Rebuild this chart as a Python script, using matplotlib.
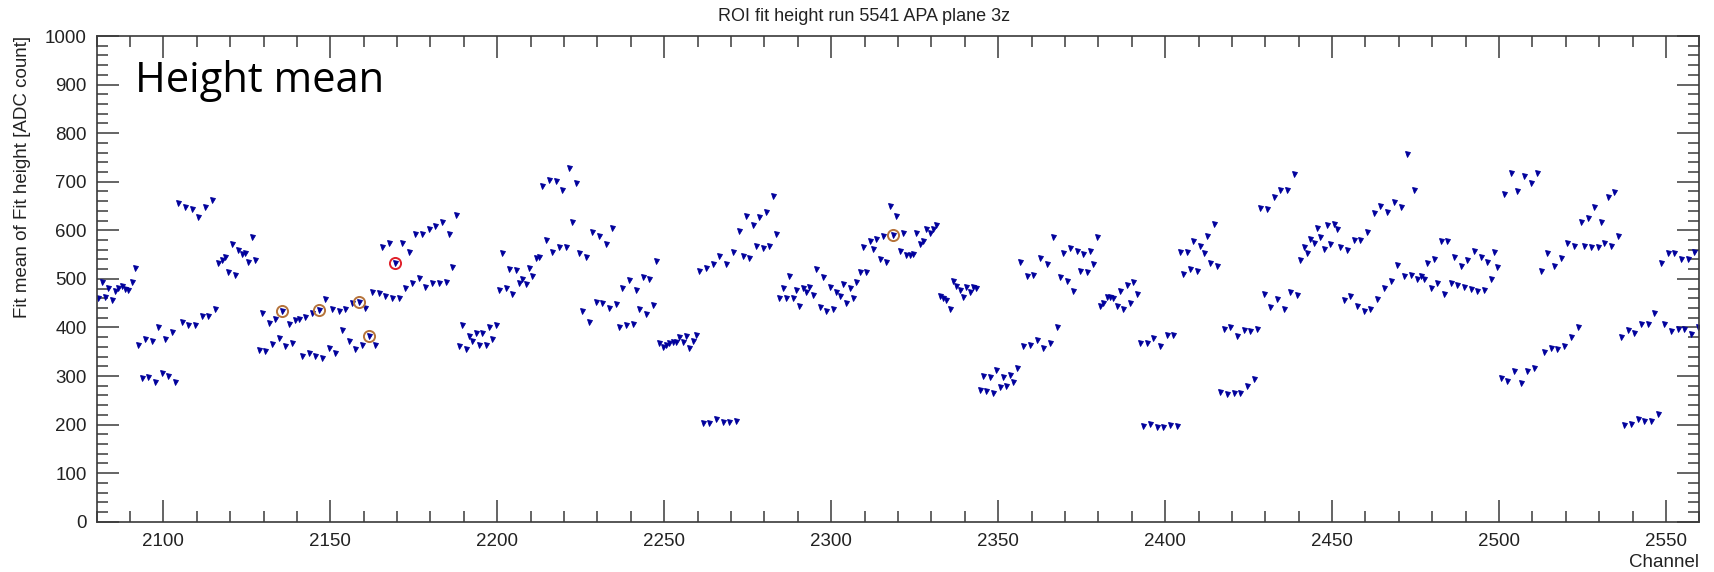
import numpy as np
import matplotlib
matplotlib.use("Agg")
import matplotlib.pyplot as plt
from matplotlib.ticker import MultipleLocator

# fit mean per channel (channels 2080..2559)
first_channel = 2080
height_2080 = [460, 494, 463, 482, 456, 476, 482, 485, 480, 478,
               494, 523, 364, 295, 376, 298, 373, 287, 400, 306,
               377, 300, 391, 288, 656, 411, 647, 405, 644, 405,
               627, 424, 647, 424, 662, 439, 532, 539, 546, 515,
               571, 509, 559, 551, 554, 535, 587, 538, 354, 429,
               352, 410, 365, 418, 378, 434, 362, 408, 369, 415,
               417, 342, 422, 348, 430, 341, 435, 338, 458, 357,
               438, 348, 434, 395, 439, 372, 451, 355, 452, 364]
height_2160 = [441, 383, 472, 364, 470, 566, 465, 573, 461, 533,
               460, 573, 481, 556, 492, 592, 501, 592, 484, 602,
               492, 609, 492, 618, 494, 592, 525, 632, 362, 405,
               356, 382, 372, 388, 364, 388, 364, 400, 377, 406,
               477, 553, 482, 520, 469, 518, 491, 500, 490, 523,
               505, 542, 546, 691, 581, 704, 556, 702, 566, 682,
               566, 728, 617, 697, 553, 433, 546, 412, 597, 453,
               588, 451, 571, 441, 604, 448, 400, 482, 406, 498]
height_2240 = [407, 477, 437, 503, 428, 500, 446, 537, 367, 359,
               364, 367, 370, 370, 380, 371, 382, 357, 372, 384,
               517, 204, 523, 204, 531, 211, 548, 206, 531, 206,
               555, 208, 599, 548, 629, 544, 610, 568, 627, 564,
               638, 568, 671, 592, 461, 482, 461, 505, 461, 477,
               444, 481, 474, 484, 467, 520, 443, 503, 434, 484,
               438, 474, 465, 489, 450, 481, 461, 494, 515, 566,
               515, 579, 562, 583, 541, 589, 535, 651, 590, 630]
height_2320 = [558, 594, 549, 549, 551, 594, 572, 578, 602, 594,
               602, 610, 465, 461, 457, 438, 496, 485, 477, 463,
               483, 472, 484, 481, 271, 300, 269, 297, 266, 312,
               278, 297, 279, 303, 288, 316, 535, 362, 505, 364,
               508, 374, 543, 357, 530, 369, 586, 400, 503, 554,
               496, 564, 476, 558, 517, 551, 515, 558, 530, 586,
               445, 450, 463, 463, 461, 444, 475, 438, 487, 450,
               494, 469, 367, 198, 369, 201, 378, 194, 362, 196]
height_2400 = [384, 199, 384, 198, 556, 510, 556, 520, 577, 517,
               568, 553, 588, 533, 612, 527, 268, 397, 264, 400,
               266, 382, 266, 395, 280, 393, 293, 397, 645, 469,
               644, 443, 668, 459, 683, 438, 683, 472, 716, 467,
               538, 566, 553, 582, 573, 604, 587, 561, 611, 571,
               612, 603, 566, 457, 559, 465, 581, 445, 581, 433,
               597, 438, 635, 459, 650, 481, 638, 496, 658, 528,
               649, 505, 757, 509, 683, 500, 505, 500, 533, 481]
height_2480 = [541, 492, 577, 469, 579, 492, 546, 487, 527, 483,
               538, 479, 558, 476, 546, 478, 534, 500, 556, 525,
               295, 674, 290, 717, 310, 681, 285, 712, 311, 697,
               316, 719, 517, 349, 553, 357, 527, 356, 544, 362,
               573, 380, 568, 400, 617, 568, 625, 565, 648, 565,
               618, 573, 669, 568, 678, 588, 381, 199, 395, 201,
               388, 211, 407, 208, 407, 208, 429, 221, 532, 407,
               554, 393, 553, 397, 541, 397, 541, 387, 555, 401]

# channels highlighted with circles
orange_channels = [2135, 2146, 2158, 2161, 2318]
red_channels = [2169]

heights = np.array(height_2080 + height_2160 + height_2240 +
                   height_2320 + height_2400 + height_2480, dtype=float)
channels = first_channel + np.arange(len(heights))
centers = channels + 0.5  # bin centres

plt.rcParams['font.family'] = ['Liberation Sans', 'DejaVu Sans']
axis_col = '#3a3a3a'
text_col = '#222222'

fig = plt.figure(figsize=(17.15, 5.72), dpi=100)
ax = fig.add_axes([0.0563, 0.0879, 0.9346, 0.8491])

ax.plot(centers, heights, linestyle='none', marker='v', markersize=3.6,
        color='#00009c', markeredgewidth=0.6)

for chans, col in [(orange_channels, '#b5733a'), (red_channels, '#e0202a')]:
    idx = np.array(chans) - first_channel
    ax.plot(centers[idx], heights[idx], linestyle='none', marker='o',
            markersize=8, markerfacecolor='none', markeredgecolor=col,
            markeredgewidth=1.4)

ax.set_xlim(2080, 2560)
ax.set_ylim(0, 1000)
ax.xaxis.set_major_locator(MultipleLocator(50))
ax.xaxis.set_minor_locator(MultipleLocator(10))
ax.yaxis.set_major_locator(MultipleLocator(100))
ax.yaxis.set_minor_locator(MultipleLocator(20))
ax.tick_params(which='both', direction='in', top=True, right=True,
               color=axis_col, labelcolor=text_col, labelsize=13.5)
ax.tick_params(which='major', length=16, width=1.1)
ax.tick_params(which='minor', length=8, width=1.1)
ax.tick_params(axis='x', pad=8)
ax.tick_params(axis='y', pad=7)
for s in ax.spines.values():
    s.set_color(axis_col)
    s.set_linewidth(1.2)

# title is centred on the whole canvas, not on the axes
fig.text(0.504, 0.9638, 'ROI fit height run 5541 APA plane 3z', fontsize=13,
         color=text_col, ha='center', va='baseline')
ax.set_xlabel('Channel', loc='right', fontsize=13.5, color=text_col, labelpad=3)
ax.set_ylabel('Fit mean of Fit height [ADC count]', loc='top', fontsize=13.5,
              color=text_col, labelpad=10)

ax.text(0.024, 0.885, 'Height mean', transform=ax.transAxes, fontsize=30,
        family=['Open Sans', 'DejaVu Sans'], color='black', va='baseline')

fig.savefig('out.png', dpi=100)
